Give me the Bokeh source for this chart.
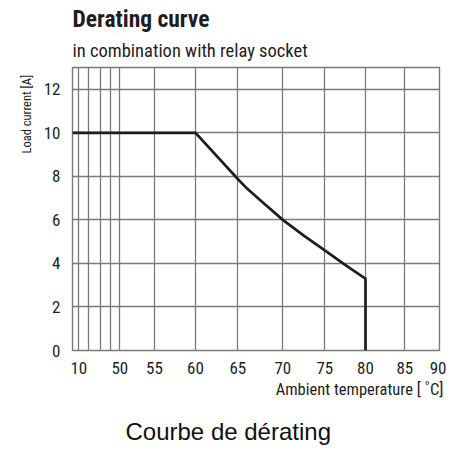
import numpy as np
from bokeh.plotting import figure
from bokeh.models import Range1d, FixedTicker, Title
from bokeh.embed import file_html
from bokeh.resources import INLINE

# ---- data ----
title = "Derating curve"
subtitle = "in combination with relay socket"
x_label = "Ambient temperature [ \u02daC]"
y_label = "Load current [A]"
caption = "Courbe de d\u00e9rating"

x_tick_temps = [10, 50, 55, 60, 65, 70, 75, 80, 85, 90]
x_grid_temps = [10, 20, 30, 40, 50, 55, 60, 65, 70, 75, 80, 85, 90]
y_ticks = [0, 2, 4, 6, 8, 10, 12]

curve_temp = [0, 60, 65, 66, 67.5, 70, 72.5, 75, 77.5, 80, 80]
curve_current = [10, 10, 7.88, 7.45, 6.9, 6.0, 5.28, 4.6, 3.93, 3.3, 0]

# broken temperature axis: temperature -> axis position
axis_temps = [0, 10, 20, 30, 40, 50, 55, 60, 65, 70, 75, 80, 85, 90]
axis_pos = [72, 78.3, 87.7, 100, 110, 119.3, 154, 195, 237.3, 282.3, 324.3, 365, 404.3, 439]


def tx(t):
    return [float(v) for v in np.interp(t, axis_temps, axis_pos)]


NARROW = "Roboto Condensed"
GRID = "#7a7a7a"
INK = "#1e1e1e"

p = figure(frame_width=367, frame_height=283, output_backend="svg", toolbar_location=None,
           x_range=Range1d(axis_pos[0], axis_pos[-1]), y_range=Range1d(0, 13),
           min_border_left=72, min_border_right=7, min_border_top=67, min_border_bottom=105)
p.background_fill_color = "white"
p.border_fill_color = "white"
p.outline_line_color = GRID
p.outline_line_width = 1.4

p.xaxis.ticker = FixedTicker(ticks=tx(x_tick_temps))
p.xaxis.major_label_overrides = {v: str(t) for v, t in zip(tx(x_tick_temps), x_tick_temps)}
p.yaxis.ticker = FixedTicker(ticks=y_ticks)
for ax in (p.xaxis[0], p.yaxis[0]):
    ax.axis_line_color = None
    ax.major_tick_line_color = None
    ax.minor_tick_line_color = None
    ax.major_tick_out = 0
    ax.major_tick_in = 0
    ax.major_label_text_font = NARROW
    ax.major_label_text_font_size = "17px"
    ax.major_label_text_color = INK
p.xaxis.major_label_standoff = 11
p.yaxis.major_label_standoff = 12

p.xgrid.ticker = FixedTicker(ticks=tx(x_grid_temps))
p.ygrid.ticker = FixedTicker(ticks=y_ticks)
for g in (p.xgrid[0], p.ygrid[0]):
    g.grid_line_color = GRID
    g.grid_line_width = 1.3

p.line(tx(curve_temp), curve_current, line_color=INK, line_width=2.7, line_join="miter")

# texts (titles in side panels)
p.add_layout(Title(text=subtitle, text_font=NARROW, text_font_size="18.5px",
                   text_font_style="normal", text_color=INK, align="left", standoff=12), "above")
p.add_layout(Title(text=title, text_font=NARROW, text_font_size="23.5px",
                   text_font_style="bold", text_color=INK, align="left", standoff=-2), "above")
p.add_layout(Title(text=x_label, text_font=NARROW, text_font_size="16.5px",
                   text_font_style="normal", text_color=INK, align="right", offset=-4,
                   standoff=2), "below")
p.add_layout(Title(text=caption, text_font="Liberation Sans", text_font_size="24px",
                   text_font_style="normal", text_color="#111111", align="left", offset=53,
                   standoff=33), "below")
p.add_layout(Title(text=y_label, text_font=NARROW, text_font_size="12.5px",
                   text_font_style="normal", text_color=INK, align="left", offset=197,
                   standoff=13), "left")

open("out.html", "w").write(file_html(p, INLINE))
